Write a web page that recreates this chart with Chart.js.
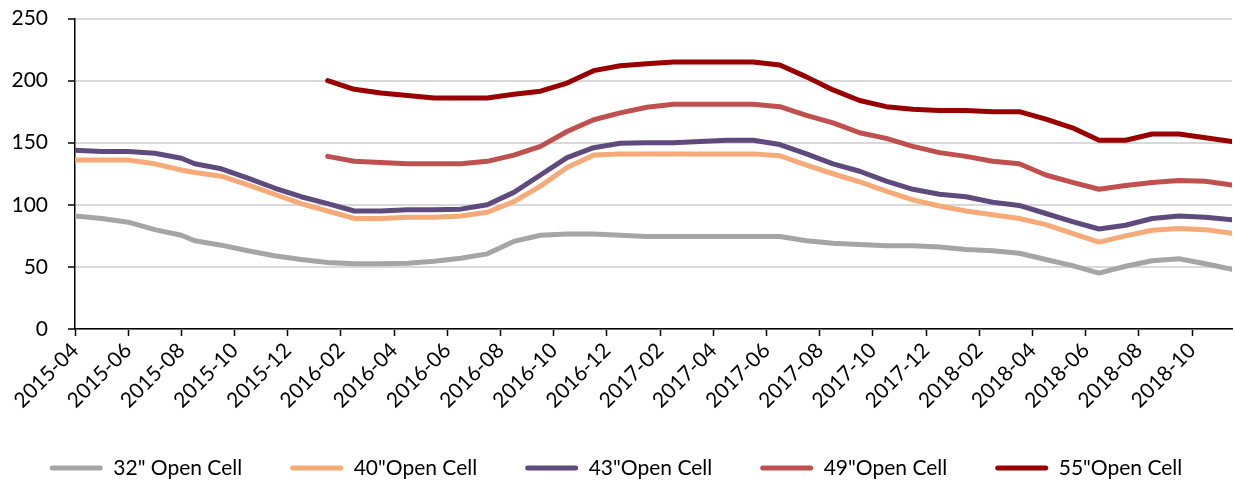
<!DOCTYPE html>
<html>
<head>
<meta charset="utf-8">
<script src="https://cdn.jsdelivr.net/npm/chart.js@4.4.1/dist/chart.umd.min.js"></script>
<style>
  html, body { margin: 0; padding: 0; background: #fff; }
  #wrap { width: 1235px; height: 482px; }
</style>
</head>
<body>
<div id="wrap"><canvas id="c" width="1235" height="482"></canvas></div>
<script>
// Month offsets from 2015-04 (first point at start of April, then mid-month readings)
const monthOffsets = [0, 1, 2, 3, 4, 4.5, 5.5, 6.5, 7.5, 8.5, 9.5, 10.5, 11.5, 12.5, 13.5, 14.5, 15.5, 16.5, 17.5, 18.5, 19.5, 20.5, 21.5, 22.5, 23.5, 24.5, 25.5, 26.5, 27.5, 28.5, 29.5, 30.5, 31.5, 32.5, 33.5, 34.5, 35.5, 36.5, 37.5, 38.5, 39.5, 40.5, 41.5, 42.5, 43.5];

const tickLabels = ['2015-04', '2015-06', '2015-08', '2015-10', '2015-12', '2016-02', '2016-04', '2016-06', '2016-08', '2016-10', '2016-12', '2017-02', '2017-04', '2017-06', '2017-08', '2017-10', '2017-12', '2018-02', '2018-04', '2018-06', '2018-08', '2018-10'];

const seriesNames = ['32" Open Cell', '40"Open Cell', '43"Open Cell', '49"Open Cell', '55"Open Cell'];

const cell32 = [91, 89, 86, 80, 75.5, 71, 67.5, 63, 59, 56, 53.5, 52.5, 52.5, 53, 54.5, 57, 60.5, 70.5, 75.5, 76.5, 76.5, 75.5, 74.5, 74.5, 74.5, 74.5, 74.5, 74.5, 71, 69, 68, 67, 67, 66, 64, 63, 61, 56, 51, 45, 50.5, 55, 56.5, 52.5, 48];

const cell40 = [136, 136, 136, 133, 128, 126, 123, 116, 108.5, 101, 95, 89, 89, 90, 90, 91, 94, 102.5, 115, 130, 140, 141, 141, 141, 141, 141, 141, 139.5, 132, 125, 118.5, 111, 104, 99, 95, 92, 89, 84, 77, 70, 75, 79.5, 81, 80, 77];

const cell43 = [144, 143, 143, 141.5, 137.5, 133, 129, 121.5, 113.5, 106.5, 101, 95, 95, 96, 96, 96.5, 100, 110, 124, 138, 146, 149.5, 150, 150, 151, 152, 152, 148.5, 141, 133, 127, 119, 112.5, 108.5, 106.5, 102, 99.5, 93, 86.5, 80.5, 83.5, 89, 91, 90, 88];

const cell49 = [null, null, null, null, null, null, null, null, null, null, 139, 135, 134, 133, 133, 133, 135, 140, 147, 159, 168.5, 174, 178.5, 181, 181, 181, 181, 179, 172, 166, 158, 153.5, 147, 142, 139, 135, 133, 124, 118, 112.5, 115.5, 118, 119.5, 119, 116];

const cell55 = [null, null, null, null, null, null, null, null, null, null, 200, 193, 190, 188, 186, 186, 186, 189, 191.5, 198, 208, 212, 213.5, 215, 215, 215, 215, 212.5, 203, 192.5, 184, 179, 177, 176, 176, 175, 175, 169, 162, 152, 152, 157, 157, 154, 151];

const seriesColors = ['#A5A5A5', '#F5AA78', '#5F4A7E', '#C0504D', '#990000'];

const allSeries = [cell32, cell40, cell43, cell49, cell55];

function toPoints(vals) {
  return vals.map((v, i) => ({ x: monthOffsets[i], y: v }));
}

Chart.defaults.font.family = 'Lato';
Chart.defaults.font.size = 21;
Chart.defaults.color = '#000';

const legendSizer = {
  id: 'legendSizer',
  beforeLayout(chart) {
    const lg = chart.legend;
    if (lg && !lg._sized) {
      const orig = lg.fit.bind(lg);
      lg.fit = function () { orig(); this.height = 72.5; };
      lg._sized = true;
    }
  }
};

new Chart(document.getElementById('c'), {
  type: 'line',
  data: {
    datasets: allSeries.map((vals, i) => ({
      label: seriesNames[i],
      data: toPoints(vals),
      borderColor: seriesColors[i],
      backgroundColor: seriesColors[i],
      borderWidth: 5,
      pointRadius: 0,
      pointHoverRadius: 0,
      tension: 0,
      fill: false,
      borderJoinStyle: 'round',
      borderCapStyle: 'round',
      spanGaps: false
    }))
  },
  options: {
    responsive: false,
    animation: false,
    layout: { padding: { top: 18.5, right: 3, left: 0, bottom: 0 } },
    plugins: {
      tooltip: { enabled: false },
      legend: {
        position: 'bottom',
        labels: {
          boxWidth: 53,
          boxHeight: 5,
          padding: 48,
          useBorderRadius: true,
          borderRadius: 2.5,
          color: '#000',
          font: { size: 21, family: 'Lato' },
          generateLabels(chart) {
            const items = Chart.defaults.plugins.legend.labels.generateLabels(chart);
            return items.map(it => Object.assign(it, { lineWidth: 0, fillStyle: it.strokeStyle }));
          }
        }
      }
    },
    scales: {
      x: {
        type: 'linear',
        min: 0,
        max: 43.5,
        afterFit(scale) { scale.height = 80.5; },
        border: { display: true, color: '#000', width: 1.5 },
        grid: { drawOnChartArea: false, drawTicks: true, tickLength: 7, tickColor: '#000', tickWidth: 1.5 },
        ticks: {
          stepSize: 2,
          includeBounds: false,
          autoSkip: false,
          maxRotation: 45,
          minRotation: 45,
          padding: 2,
          color: '#000',
          font: { size: 21 },
          callback(v) {
            const k = v / 2;
            return Number.isInteger(k) && tickLabels[k] ? tickLabels[k] : '';
          }
        }
      },
      y: {
        min: 0,
        max: 250,
        afterFit(scale) { scale.width = 75; scale.paddingTop = 0; scale.paddingBottom = 0; },
        border: { display: true, color: '#000', width: 1.5 },
        grid: { color: '#D9D9D9', lineWidth: 2, drawTicks: true, tickLength: 7, tickColor: '#000', tickWidth: 1.5 },
        ticks: { stepSize: 50, padding: 20, color: '#000', font: { size: 21 } }
      }
    }
  },
  plugins: [legendSizer]
});
</script>
</body>
</html>
